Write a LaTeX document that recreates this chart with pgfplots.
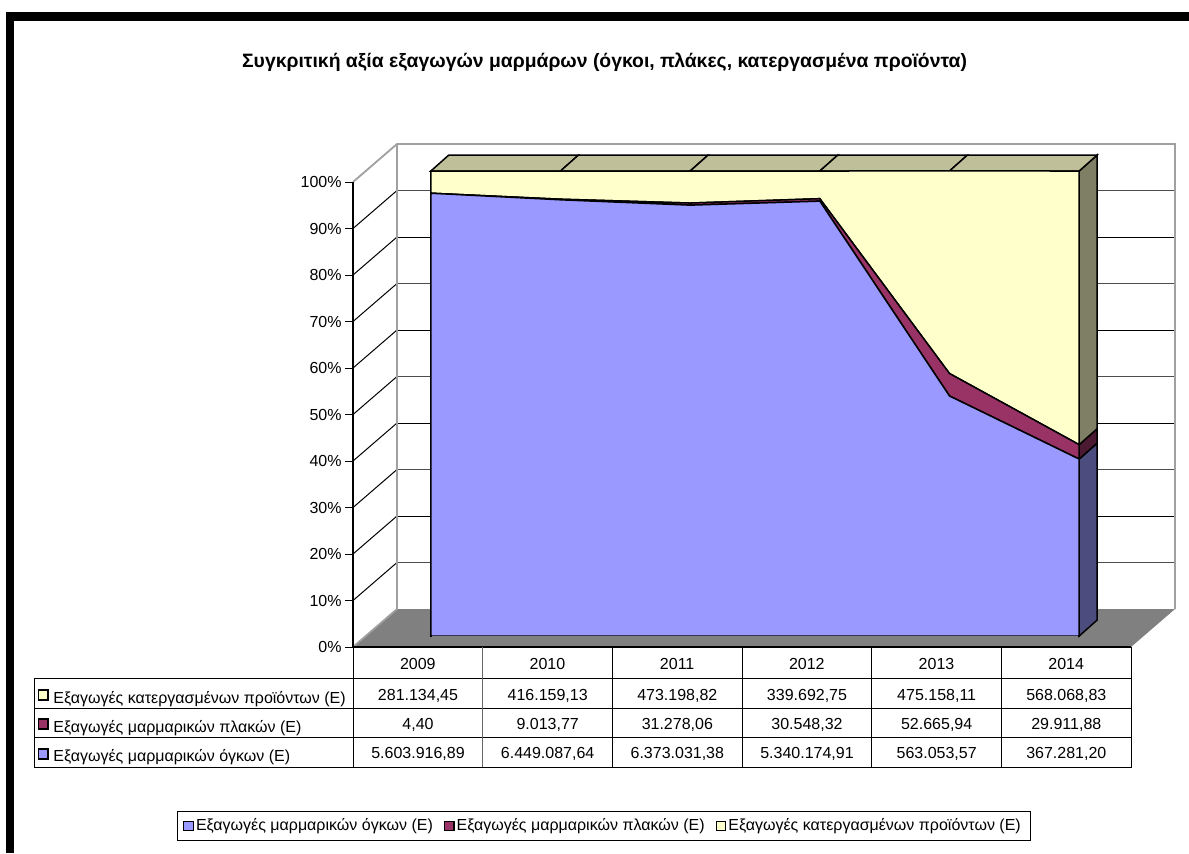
\documentclass[border=0pt]{standalone}
\usepackage{pgfplots}
\usepackage{pgfplotstable}
\usepackage{fontspec}
\setmainfont{Liberation Sans}
\pgfplotsset{compat=1.18}
\definecolor{cblue}{HTML}{9999FF}
\definecolor{cplum}{HTML}{993366}
\definecolor{cyel}{HTML}{FFFFCC}
\definecolor{sblue}{HTML}{4C4C7F}
\definecolor{splum}{HTML}{4C1933}
\definecolor{syel}{HTML}{7F7F66}
\definecolor{ctop}{HTML}{BFBF99}
\definecolor{cfloor}{HTML}{808080}
\definecolor{cwall}{HTML}{A0A0A0}
\newcommand{\tf}{\fontsize{8}{9.6}\selectfont}
\pgfplotstableread{
x blue plum yellow
0 95.22 0.00 4.78
1 93.81 0.13 6.05
2 92.66 0.45 6.88
3 93.52 0.53 5.95
4 51.62 4.83 43.56
5 38.05 3.10 58.85
}\shares
\begin{document}
\begin{tikzpicture}
\begin{scope}[x=0.5pt,y=-0.5pt]
\path[use as bounding box,fill=white] (0,0) rectangle (1189,853);
\fill[black] (6,12) rectangle (1189,21);
\fill[black] (6,12) rectangle (14,853);
\fill[cfloor] (353,647) -- (1131,647) -- (1175,609) -- (397,609) -- cycle;
\foreach \k in {1,...,9}{
  \pgfmathsetmacro{\yf}{647-46.5*\k}
  \pgfmathsetmacro{\yb}{609-46.5*\k}
  \pgfmathparse{int(mod(\k,2))}
  \ifnum\pgfmathresult=1 \def\gc{black!70}\else\def\gc{black}\fi
  \draw[black,line width=0.5pt] (353,\yf) -- (397,\yb);
  \draw[\gc,line width=0.5pt] (397,\yb) -- (1175,\yb);
}
\draw[cwall,line width=0.9pt] (353,182) -- (397,144) -- (1175,144) -- (1175,609);
\draw[cwall,line width=0.9pt] (397,144) -- (397,609) -- (353,647);
\end{scope}
% frame axis
\begin{axis}[at={(176.5pt,-323.5pt)},anchor=south west,scale only axis,width=389pt,height=232.5pt,
  xmin=-0.5,xmax=5.5,ymin=0,ymax=100,clip=false,
  axis x line*=bottom,axis y line*=left,axis line style={black,line width=0.6pt,-},
  ytick={0,10,...,100},yticklabel={\pgfmathprintnumber{\tick}\%},
  /pgf/number format/assume math mode=true,
  yticklabel style={font=\tf,inner sep=0pt,xshift=-1.5pt},
  ytick style={black,line width=0.5pt},
  tick align=outside,major tick length=4pt,
  xtick={0,1,2,3,4,5},xticklabels={2009,2010,2011,2012,2013,2014},
  x tick style={draw=none},
  xticklabel style={font=\tf,anchor=base,inner sep=0pt,yshift=-7pt},
  /pgf/number format/1000 sep={}]
\end{axis}
% side and top faces
\begin{axis}[at={(183pt,-318pt)},anchor=south west,scale only axis,width=389pt,height=232.5pt,
  xmin=-0.5,xmax=5.5,ymin=0,ymax=100,clip=false,hide axis]
\addplot[fill=sblue,draw=black,line width=0.75pt] coordinates {(5,0)(5.1388,3.44)(5.1388,41.49)(5,38.05)} -- cycle;
\addplot[fill=splum,draw=black,line width=0.75pt] coordinates {(5,38.05)(5.1388,41.49)(5.1388,44.59)(5,41.15)} -- cycle;
\addplot[fill=syel,draw=black,line width=0.75pt] coordinates {(5,41.15)(5.1388,44.59)(5.1388,103.44)(5,100)} -- cycle;
\addplot[fill=ctop,draw=black,line width=0.75pt] coordinates {(0,100)(1,100)(1.1388,103.44)(0.1388,103.44)} -- cycle;
\addplot[fill=ctop,draw=black,line width=0.75pt] coordinates {(1,100)(2,100)(2.1388,103.44)(1.1388,103.44)} -- cycle;
\addplot[fill=ctop,draw=black,line width=0.75pt] coordinates {(2,100)(3,100)(3.1388,103.44)(2.1388,103.44)} -- cycle;
\addplot[fill=ctop,draw=black,line width=0.75pt] coordinates {(3,100)(4,100)(4.1388,103.44)(3.1388,103.44)} -- cycle;
\addplot[fill=ctop,draw=black,line width=0.75pt] coordinates {(4,100)(5,100)(5.1388,103.44)(4.1388,103.44)} -- cycle;
\end{axis}
% front stacked areas
\begin{axis}[at={(183pt,-318pt)},anchor=south west,scale only axis,width=389pt,height=232.5pt,
  xmin=-0.5,xmax=5.5,ymin=0,ymax=100,clip=false,hide axis,stack plots=y,
  legend columns=3,
  legend style={at={(0.3059,-0.4086)},anchor=center,draw=black,line width=0.5pt,font=\tf,
    inner xsep=3pt,inner ysep=1.5pt,row sep=0pt,
    /tikz/every even column/.append style={column sep=3.5pt}},
  legend cell align=left,
  legend image code/.code={\draw[#1,draw=black,line width=0.6pt] (0pt,-2.4pt) rectangle (4.8pt,2.4pt);}]
\addplot[fill=cblue,draw=black,line width=0.75pt] table[x=x,y=blue] {\shares} \closedcycle;
\addplot[fill=cplum,draw=black,line width=0.75pt] table[x=x,y=plum] {\shares} \closedcycle;
\addplot[fill=cyel,draw=black,line width=0.75pt] table[x=x,y=yellow] {\shares} \closedcycle;
\legend{\hspace*{-1pt}Εξαγωγές μαρμαρικών όγκων (Ε),\hspace*{-1pt}Εξαγωγές μαρμαρικών πλακών (Ε),\hspace*{-1pt}Εξαγωγές κατεργασμένων προϊόντων (Ε)}
\end{axis}
\begin{scope}[x=0.5pt,y=-0.5pt]
\draw[cfloor,line width=0.8pt] (432,636.4) -- (1078,636.4);
\node[font=\fontsize{9.68}{11}\selectfont\bfseries,anchor=center] at (604.5,62.5) {Συγκριτική αξία εξαγωγών μαρμάρων (όγκοι, πλάκες, κατεργασμένα προϊόντα)};
% table
\draw[black,line width=0.5pt] (34,678) rectangle (1131,767);
\draw[black,line width=0.5pt] (34,708) -- (1131,708) (34,737) -- (1131,737);
\draw[black,line width=0.5pt] (1131,647) -- (1131,767);
\foreach \k in {0,...,5}{
  \pgfmathsetmacro{\xc}{353+129.667*\k}
  \ifnum\k=1 \def\gc{black!60}\else\def\gc{black}\fi
  \draw[\gc,line width=0.5pt] (\xc,647) -- (\xc,767);
}
\foreach \yy/\yb/\col/\lab in {695/703/cyel/Εξαγωγές κατεργασμένων προϊόντων (Ε),724/732/cplum/Εξαγωγές μαρμαρικών πλακών (Ε),754/761/cblue/Εξαγωγές μαρμαρικών όγκων (Ε)}{
  \draw[fill=\col,draw=black,line width=0.6pt] (38.5,\yy-5) rectangle (48,\yy+5);
  \node[font=\tf,anchor=base west,inner sep=0pt] at (53,\yb) {\lab};
}
\foreach \k/\a in {0/{281.134,45},1/{416.159,13},2/{473.198,82},3/{339.692,75},4/{475.158,11},5/{568.068,83}}{
  \node[font=\tf,anchor=base,inner sep=0pt] at (418+129.667*\k,700) {\a};}
\foreach \k/\a in {0/{4,40},1/{9.013,77},2/{31.278,06},3/{30.548,32},4/{52.665,94},5/{29.911,88}}{
  \node[font=\tf,anchor=base,inner sep=0pt] at (418+129.667*\k,729) {\a};}
\foreach \k/\a in {0/{5.603.916,89},1/{6.449.087,64},2/{6.373.031,38},3/{5.340.174,91},4/{563.053,57},5/{367.281,20}}{
  \node[font=\tf,anchor=base,inner sep=0pt] at (418+129.667*\k,758) {\a};}
\end{scope}
\end{tikzpicture}
\end{document}
